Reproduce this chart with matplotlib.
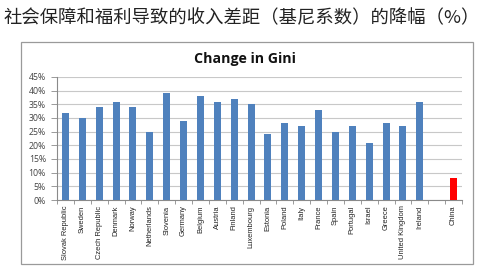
import matplotlib
matplotlib.use("Agg")
import matplotlib.pyplot as plt
from matplotlib.patches import Rectangle
import numpy as np

countries = ["Slovak Republic", "Sweden", "Czech Republic", "Denmark", "Norway",
             "Netherlands", "Slovenia", "Germany", "Belgium", "Austria", "Finland",
             "Luxembourg", "Estonia", "Poland", "Italy", "France", "Spain",
             "Portugal", "Israel", "Greece", "United Kingdom", "Ireland", "", "China"]
gini_drop = [32, 30, 34, 36, 34, 25, 39, 29, 38, 36, 37, 35, 24, 28, 27, 33, 25,
             27, 21, 28, 27, 36, None, 8]
y_ticks = [0, 5, 10, 15, 20, 25, 30, 35, 40, 45]
y_tick_labels = ["0%", "5%", "10%", "15%", "20%", "25%", "30%", "35%", "40%", "45%"]

W, H = 483, 278
fig = plt.figure(figsize=(W / 100, H / 100), dpi=100)
fig.patch.set_facecolor("white")

# page heading
fig.text(3 / W, 1 - 18 / H, "社会保障和福利导致的收入差距（基尼系数）的降幅（%）",
         family=["Noto Sans CJK SC", "DejaVu Sans"], fontsize=13.2,
         color="#222222", va="center", ha="left")

# chart frame
fig.patches.append(Rectangle((20.5 / W, 1 - 263.5 / H), 452 / W, 221 / H,
                             transform=fig.transFigure, fill=False,
                             edgecolor="#9a9a9a", linewidth=0.9))

fig.text(245 / W, 1 - 62.7 / H, "Change in Gini", fontsize=10.2, fontweight="bold",
         family=["Open Sans", "DejaVu Sans"], ha="center", va="baseline",
         color="#111111")

ax = fig.add_axes([57 / W, 1 - 200 / H, (462 - 57) / W, (200 - 77) / H])
x = np.arange(len(countries))
vals = [v if v is not None else 0 for v in gini_drop]
colors = ["#FF0000" if c == "China" else "#4F81BD" for c in countries]
ax.bar(x, vals, width=0.42, color=colors, zorder=3)

ax.set_xlim(-0.5, len(countries) - 0.5)
ax.set_ylim(0, 45)
ax.set_yticks(y_ticks)
ax.set_yticklabels(y_tick_labels, fontsize=6.3, color="#444444",
                   family=["Open Sans", "DejaVu Sans"])
ax.yaxis.grid(True, color="#c8c8c8", linewidth=0.8, zorder=0)
ax.tick_params(axis="y", length=4, width=0.6, color="#8a8a8a", pad=4)

ax.set_xticks(np.arange(-0.5, len(countries)), minor=False)
ax.set_xticklabels([])
ax.set_xticks(x, minor=True)
ax.set_xticklabels(countries, minor=True, rotation=90, fontsize=5.4,
                   color="#222222", family=["Liberation Sans", "DejaVu Sans"])
ax.tick_params(axis="x", which="major", length=3, width=0.6, color="#8a8a8a")
ax.tick_params(axis="x", which="minor", length=0, pad=4)

for s in ["top", "right"]:
    ax.spines[s].set_visible(False)
for s in ["left", "bottom"]:
    ax.spines[s].set_color("#8a8a8a")
    ax.spines[s].set_linewidth(0.8)

fig.savefig("out.png", dpi=100, facecolor="white")
